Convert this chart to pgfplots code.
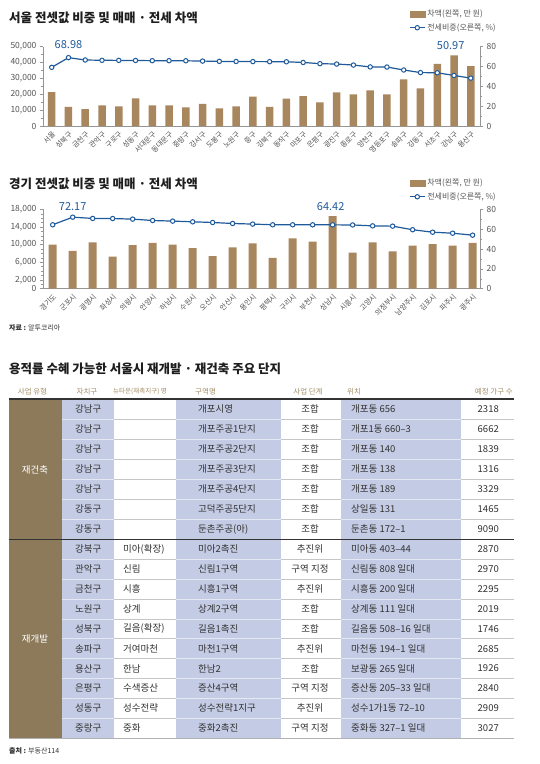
\documentclass[border=0pt]{standalone}
\usepackage{pgfplots}
\pgfplotsset{compat=1.18}
\usepackage{pgfplotstable}
\usepackage{fontspec}
\setmainfont{Noto Sans CJK KR}
\definecolor{barbrown}{RGB}{168,135,95}
\definecolor{lineblue}{RGB}{31,90,155}
\definecolor{axisgray}{RGB}{150,150,150}
\definecolor{ticktext}{RGB}{85,85,85}
\definecolor{titletext}{RGB}{30,30,30}
\definecolor{tblbrown}{RGB}{140,122,91}
\definecolor{tblblue}{RGB}{196,203,228}
\definecolor{hdrtan}{RGB}{164,143,104}
\definecolor{bodytext}{RGB}{50,50,50}

\pgfplotstableread{
x bar line
0 21400 59.2
1 12000 68.98
2 10700 66.6
3 13000 66.3
4 12400 66.2
5 17400 66.1
6 13000 65.9
7 13000 65.9
8 11800 65.8
9 13900 65.5
10 11100 65.2
11 12400 65.1
12 18500 65.0
13 12000 64.9
14 17200 64.8
15 18900 64.1
16 14900 62.9
17 21200 62.5
18 20000 61.5
19 22500 59.6
20 20000 59.5
21 29400 56.5
22 23700 53.9
23 39100 53.7
24 44500 50.97
25 37800 48.3
}\seoul

\pgfplotstableread{
x bar line
0 10000 64.5
1 8600 72.17
2 10500 70.9
3 7300 70.8
4 9900 70.2
5 10400 68.8
6 10000 68.2
7 9200 67.5
8 7400 66.8
9 9400 65.8
10 10300 65.2
11 7000 64.5
12 11400 64.5
13 10700 64.45
14 16500 64.42
15 8200 64.3
16 10500 63.4
17 8500 63.1
18 9800 59.5
19 10100 57.0
20 9800 56.0
21 10400 54.0
}\gyeonggi

\tikzset{annot/.style={font=\fontsize{11}{12}\selectfont, text=lineblue}}

\pgfplotsset{
  common/.style={
    scale only axis, width=437pt, height=79.3pt, clip=false,
    ymin=0,
    axis line style={axisgray, line width=0.6pt},
    tick style={axisgray, line width=0.5pt},
    tick align=outside, major tick length=3pt, minor tick length=2pt,
    yticklabel style={font=\fontsize{8.5}{10}\selectfont, text=ticktext},
    /pgf/number format/1000 sep={,},
    /pgf/number format/assume math mode=true,
  },
  leftax/.style={
    common, axis y line*=left, axis x line*=bottom,
    scaled y ticks=false,
    xtick style={draw=none},
    xticklabel style={rotate=45, anchor=north east, inner sep=1pt,
      font=\fontsize{7.2}{8}\selectfont, text=ticktext},
    legend style={draw=none, fill=none, anchor=north west,
      font=\fontsize{8}{9.5}\selectfont, text=ticktext,
      row sep=1.5pt, inner sep=0pt},
    legend cell align=left,
  },
  rightax/.style={
    common, axis y line*=right, axis x line=none,
    ymax=80, ytick={0,20,40,60,80}, minor y tick num=1,
  },
  barleg/.style={legend image code/.code={\fill[barbrown] (0pt,-2.6pt) rectangle (15pt,2.6pt);}},
  lineleg/.style={legend image code/.code={%
    \draw[lineblue, line width=1.2pt] (0pt,0pt) -- (15pt,0pt);
    \draw[lineblue, fill=white, line width=1pt] (7.5pt,0pt) circle (2.2pt);}},
}

\begin{document}
\begin{tikzpicture}[x=1pt,y=1pt]
\useasboundingbox (0,0) rectangle (540,-764);
\fill[white] (0,0) rectangle (540,-764);

% ---------- Chart 1 ----------
\node[anchor=west, inner sep=0pt, text=titletext, font={\fontsize{12.5}{14}\selectfont\bfseries}] at (9,-17.5) {서울 전셋값 비중 및 매매 · 전세 차액};

\begin{axis}[leftax, at={(43pt,-126pt)}, anchor=south west,
  xmin=-0.52, xmax=25.55, ymax=50000,
  ytick={0,10000,20000,30000,40000,50000}, minor y tick num=1,
  xtick={0,...,25},
  xticklabels={서울,성북구,금천구,관악구,구로구,성동구,서대문구,동대문구,중랑구,강서구,도봉구,노원구,중구,강북구,동작구,마포구,은평구,광진구,종로구,양천구,영등포구,송파구,강동구,서초구,강남구,용산구},
  legend style={at={(axis description cs:0.8375,1.49)}},
]
\addplot[ybar, bar width=7.5pt, bar shift=0pt, fill=barbrown, draw=none, forget plot] table[x=x,y=bar]{\seoul};
\addlegendimage{barleg}
\addlegendentry{차액(왼쪽, 만 원)}
\addlegendimage{lineleg}
\addlegendentry{전세비중(오른쪽, \%)}
\end{axis}

\begin{axis}[rightax, at={(43pt,-126pt)}, anchor=south west,
  xmin=-0.52, xmax=25.55]
\addplot[lineblue, line width=1.2pt, mark=*, mark size=2.2pt,
  mark options={fill=white, draw=lineblue, line width=1pt}] table[x=x,y=line]{\seoul};
\node[annot] at (axis cs:1,68.98) [yshift=13pt] {68.98};
\node[annot] at (axis cs:23.8,80) [yshift=1.5pt] {50.97};
\end{axis}

% ---------- Chart 2 ----------
\node[anchor=west, inner sep=0pt, text=titletext, font={\fontsize{12.5}{14}\selectfont\bfseries}] at (9,-184) {경기 전셋값 비중 및 매매 · 전세 차액};

\begin{axis}[leftax, at={(43pt,-288.7pt)}, anchor=south west,
  xmin=-0.485, xmax=21.37, ymax=18000,
  ytick={0,2000,6000,10000,14000,18000},
  minor ytick={1000,3000,4000,5000,7000,8000,9000,11000,12000,13000,15000,16000,17000},
  xtick={0,...,21},
  xticklabels={경기도,군포시,광명시,화성시,의왕시,안양시,하남시,수원시,오산시,안산시,용인시,평택시,구리시,부천시,성남시,시흥시,고양시,의정부시,남양주시,김포시,파주시,광주시},
  legend style={at={(axis description cs:0.8375,1.41)}},
]
\addplot[ybar, bar width=8pt, bar shift=0pt, fill=barbrown, draw=none, forget plot] table[x=x,y=bar]{\gyeonggi};
\addlegendimage{barleg}
\addlegendentry{차액(왼쪽, 만 원)}
\addlegendimage{lineleg}
\addlegendentry{전세비중(오른쪽, \%)}
\end{axis}

\begin{axis}[rightax, at={(43pt,-288.7pt)}, anchor=south west,
  xmin=-0.485, xmax=21.37]
\addplot[lineblue, line width=1.2pt, mark=*, mark size=2.2pt,
  mark options={fill=white, draw=lineblue, line width=1pt}] table[x=x,y=line]{\gyeonggi};
\node[annot] at (axis cs:1,80) [yshift=3pt] {72.17};
\node[annot] at (axis cs:13.9,80) [yshift=3pt] {64.42};
\end{axis}

\node[anchor=west, inner sep=0pt, text=bodytext, font=\fontsize{7}{8}\selectfont] at (9,-328) {\textbf{자료 :} 알투코리아};

% ---------- Table ----------
\node[anchor=west, inner sep=0pt, text=titletext, font={\fontsize{12.5}{14}\selectfont\bfseries}] at (9,-369) {용적률 수혜 가능한 서울시 재개발 · 재건축 주요 단지};

\begin{scope}[font=\fontsize{7.5}{9}\selectfont, text=hdrtan, inner sep=0pt]
\node at (32.5,-391.7) {사업 유형};
\node at (87,-391.7) {자치구};
\node[anchor=west, font=\fontsize{6.5}{8}\selectfont] at (113,-391.7) {뉴타운(재촉지구) 명};
\node[anchor=west] at (195,-391.7) {구역명};
\node at (308,-391.7) {사업 단계};
\node[anchor=west] at (347,-391.7) {위치};
\node[anchor=east] at (513,-391.7) {예정 가구 수};
\end{scope}

% column fills
\fill[tblblue] (61.7,-399) rectangle (114,-738);
\fill[tblblue] (176,-399) rectangle (281,-738);
\fill[tblblue] (341,-399) rectangle (461,-738);
\fill[tblbrown] (8.7,-399) rectangle (61.7,-539.5);
\fill[tblbrown] (8.7,-539.5) rectangle (61.7,-738);

% row separators
\foreach \i in {1,...,6} {
  \pgfmathsetmacro\yy{-399-20*\i}
  \draw[gray!45, line width=0.6pt] (61.7,\yy) -- (514,\yy);
  \draw[white!55!tblblue, line width=0.6pt] (61.7,\yy) -- (114,\yy);
  \draw[white!55!tblblue, line width=0.6pt] (176,\yy) -- (281,\yy);
  \draw[white!55!tblblue, line width=0.6pt] (341,\yy) -- (461,\yy);
}
\foreach \i in {1,...,9} {
  \pgfmathsetmacro\yy{-539.5-19.85*\i}
  \draw[gray!45, line width=0.6pt] (61.7,\yy) -- (514,\yy);
  \draw[white!55!tblblue, line width=0.6pt] (61.7,\yy) -- (114,\yy);
  \draw[white!55!tblblue, line width=0.6pt] (176,\yy) -- (281,\yy);
  \draw[white!55!tblblue, line width=0.6pt] (341,\yy) -- (461,\yy);
}
\draw[gray!60, line width=0.7pt] (8.7,-738) -- (514,-738);
\draw[black!80, line width=2pt] (8.7,-399) -- (514,-399);
\draw[black!80, line width=1.4pt] (8.7,-539.5) -- (514,-539.5);

\node[text=white, font=\fontsize{9.5}{11}\selectfont] at (35,-470) {재건축};
\node[text=white, font=\fontsize{9.5}{11}\selectfont] at (35,-639) {재개발};

\begin{scope}[font=\fontsize{9.5}{11}\selectfont, text=bodytext, inner sep=0pt]
\foreach \i/\a/\b/\c/\d/\e/\f in {
  0/강남구//개포시영/조합/개포동 656/2318,
  1/강남구//개포주공1단지/조합/개포1동 660–3/6662,
  2/강남구//개포주공2단지/조합/개포동 140/1839,
  3/강남구//개포주공3단지/조합/개포동 138/1316,
  4/강남구//개포주공4단지/조합/개포동 189/3329,
  5/강동구//고덕주공5단지/조합/상일동 131/1465,
  6/강동구//둔촌주공(아)/조합/둔촌동 172–1/9090} {
  \pgfmathsetmacro\yy{-409-20*\i}
  \node[anchor=west] at (75,\yy) {\a};
  \node[anchor=west] at (123,\yy) {\b};
  \node[anchor=west] at (198,\yy) {\c};
  \node at (310,\yy) {\d};
  \node[anchor=west] at (351,\yy) {\e};
  \node[anchor=east] at (499,\yy) {\f};
}
\foreach \i/\a/\b/\c/\d/\e/\f in {
  0/강북구/미아(확장)/미아2촉진/추진위/미아동 403–44/2870,
  1/관악구/신림/신림1구역/구역 지정/신림동 808 일대/2970,
  2/금천구/시흥/시흥1구역/추진위/시흥동 200 일대/2295,
  3/노원구/상계/상계2구역/조합/상계동 111 일대/2019,
  4/성북구/길음(확장)/길음1촉진/조합/길음동 508–16 일대/1746,
  5/송파구/거여마천/마천1구역/추진위/마천동 194–1 일대/2685,
  6/용산구/한남/한남2/조합/보광동 265 일대/1926,
  7/은평구/수색증산/증산4구역/구역 지정/증산동 205–33 일대/2840,
  8/성동구/성수전략/성수전략1지구/추진위/성수1가1동 72–10/2909,
  9/중랑구/중화/중화2촉진/구역 지정/중화동 327–1 일대/3027} {
  \pgfmathsetmacro\yy{-549.4-19.85*\i}
  \node[anchor=west] at (75,\yy) {\a};
  \node[anchor=west] at (123,\yy) {\b};
  \node[anchor=west] at (198,\yy) {\c};
  \node at (310,\yy) {\d};
  \node[anchor=west] at (351,\yy) {\e};
  \node[anchor=east] at (499,\yy) {\f};
}
\end{scope}

\node[anchor=west, inner sep=0pt, text=bodytext, font=\fontsize{7}{8}\selectfont] at (9,-750.5) {\textbf{출처 :} 부동산114};

\end{tikzpicture}
\end{document}
